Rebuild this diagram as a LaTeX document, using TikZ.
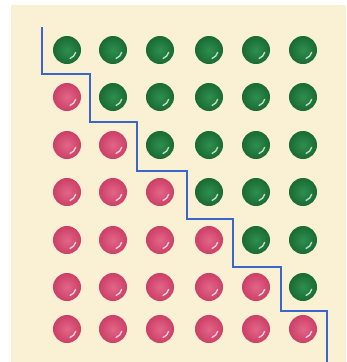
\documentclass[tikz,border=0pt]{standalone}
\usetikzlibrary{calc}
\definecolor{cream}{HTML}{FAF1D4}
\definecolor{dotgreen}{HTML}{2E8F4E}
\definecolor{dotgreendk}{HTML}{1A6A34}
\definecolor{dotpink}{HTML}{E26688}
\definecolor{dotpinkdk}{HTML}{CC3F66}
\definecolor{stairblue}{HTML}{3A66CC}
\tikzset{
  gdot/.style={circle,minimum size=28pt,inner sep=0pt,draw=none,
    inner color=dotgreen,outer color=dotgreendk},
  pdot/.style={circle,minimum size=28pt,inner sep=0pt,draw=none,
    inner color=dotpink,outer color=dotpinkdk},
  shine/.style={white,line width=1.3pt,line cap=round,opacity=0.75},
  stair/.style={stairblue,line width=1.7pt}
}
\begin{document}
\begin{tikzpicture}[x=1pt,y=-1pt]
\useasboundingbox (0,0) rectangle (346,362);
\fill[cream] (11,5) rectangle (346,362);
\def\xs{{67,113,160,209,256,303}}
\def\ys{{50,97,145,192,240,287,329}}
\foreach \r in {0,...,6}{
  \foreach \c in {0,...,5}{
    \pgfmathsetmacro{\cx}{\xs[\c]}
    \pgfmathsetmacro{\cy}{\ys[\r]}
    \ifnum\c<\r
      \node[pdot] (d-\r-\c) at (\cx,\cy) {};
    \else
      \node[gdot] (d-\r-\c) at (\cx,\cy) {};
    \fi
    \draw[shine] ($(d-\r-\c.center)+(15:9)$) arc[start angle=15,end angle=70,radius=9];
  }
}
\coordinate (s0) at (42,27);
\draw[stair] (s0) |- (90,74) |- (137,122) |- (187,171) |- (233,219) |- (281,267) |- (327,311) -- (327,362);
\end{tikzpicture}
\end{document}
